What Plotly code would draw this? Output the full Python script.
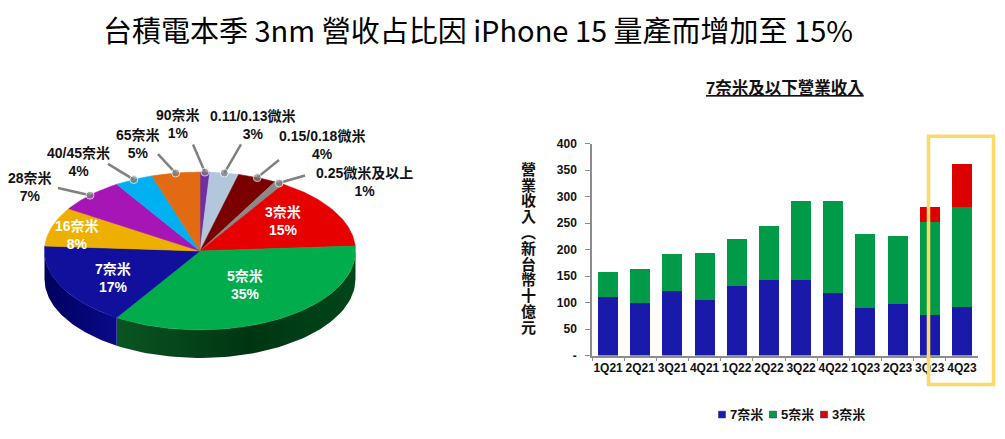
import numpy as np
import plotly.graph_objects as go

# ---------------- data ----------------
# wafer revenue share by process node (%), clockwise from 12 o'clock
node_labels = ["90奈米", "0.11/0.13微米", "0.15/0.18微米", "0.25微米及以上",
               "3奈米", "5奈米", "7奈米", "16奈米", "28奈米", "40/45奈米", "65奈米"]
node_share = [1, 3, 4, 1, 15, 35, 17, 8, 7, 4, 5]

# quarterly revenue of 7nm and below (NT$ billion)
quarters = ["1Q21", "2Q21", "3Q21", "4Q21", "1Q22", "2Q22", "3Q22", "4Q22",
            "1Q23", "2Q23", "3Q23", "4Q23"]
rev_7nm = [111, 100, 122, 105, 132, 142, 142, 118, 89, 97, 77, 92]
rev_5nm = [46, 64, 69, 89, 87, 103, 150, 174, 140, 129, 174, 189]
rev_3nm = [None, None, None, None, None, None, None, None, None, None, 30, 81]

y_ticks = [0, 50, 100, 150, 200, 250, 300, 350, 400]
y_ticktext = ["-", "50", "100", "150", "200", "250", "300", "350", "400"]

# ---------------- styling ----------------
W, H = 1005, 439
LATIN = "'Liberation Sans', Arial, 'Noto Sans CJK TC', sans-serif"
CJK = "'Noto Sans CJK TC', sans-serif"

node_colors = ["#7030A0", "#B2C6DC", "#7A0000", "#8A8A8A", "#E60000",
               "#00AC4C", "#10109C", "#EEB000", "#A616B6", "#00B0F0", "#E26A12"]
# side-wall shading, left to right
node_side_scales = [
    [[0, "#5A2786"], [1, "#3A1558"]],
    [[0, "#91A4B8"], [1, "#6A7A8C"]],
    [[0, "#5A0000"], [1, "#3A0000"]],
    [[0, "#6A6A6A"], [1, "#4A4A4A"]],
    [[0, "#A00000"], [1, "#700000"]],
    [[0, "#0A5522"], [0.55, "#003512"], [1, "#00461A"]],
    [[0, "#00005E"], [1, "#0A0A88"]],
    [[0, "#A07800"], [1, "#705400"]],
    [[0, "#7A1088"], [1, "#560A60"]],
    [[0, "#0088BA"], [1, "#005A7C"]],
    [[0, "#A04E0C"], [1, "#6E3608"]],
]

# pie geometry (pixel space of the left panel)
cx, cy, rx, ry, depth = 200.0, 252.0, 155.5, 81.5, 29.0

# outside labels: index -> (text centre x, y, leader start x, y)
outside_pos = {
    0: (178, 121, 193, 142),
    1: (253, 122, 241, 142),
    2: (322, 143, 279, 158),
    3: (364, 181, 305, 174),
    10: (138, 141, 158, 152),
    9: (78, 160, 108, 162),
    8: (30, 186, 58, 187),
}
# inside labels: index -> (text centre x, y)
inside_pos = {4: (283, 221), 5: (245, 287), 6: (113, 280), 7: (77, 236)}

series = [
    ("7奈米", rev_7nm, "#1A1AAA"),
    ("5奈米", rev_5nm, "#009A48"),
    ("3奈米", rev_3nm, "#DD0000"),
]

fig = go.Figure()

# ---------------- 3D pie ----------------
total = float(sum(node_share))
edges = np.concatenate([[0.0], np.cumsum(node_share)]) / total * 2 * np.pi


def rim(t0, t1, drop=0.0, n=60):
    ts = np.linspace(t0, t1, max(n, 3))
    return cx + rx * np.sin(ts), cy - ry * np.cos(ts) + drop


# visible side walls (front half of the disc)
for i in range(len(node_share)):
    lo, hi = max(edges[i], np.pi / 2), min(edges[i + 1], 3 * np.pi / 2)
    if lo >= hi:
        continue
    xt, yt = rim(lo, hi)
    xb, yb = rim(hi, lo, depth)
    fig.add_trace(go.Scatter(
        x=np.concatenate([xt, xb, xt[:1]]), y=np.concatenate([yt, yb, yt[:1]]),
        xaxis="x2", yaxis="y2", mode="lines", fill="toself",
        fillgradient=dict(type="horizontal", colorscale=node_side_scales[i]),
        line=dict(width=0),
        hoverinfo="skip", showlegend=False))

# top faces
for i in range(len(node_share)):
    n = int(4 + node_share[i] * 3)
    xs, ys = rim(edges[i], edges[i + 1], n=n)
    fig.add_trace(go.Scatter(
        x=np.concatenate([[cx], xs, [cx]]), y=np.concatenate([[cy], ys, [cy]]),
        xaxis="x2", yaxis="y2", mode="lines", fill="toself",
        fillcolor=node_colors[i], line=dict(color=node_colors[i], width=0.6),
        name=node_labels[i], hoverinfo="name", showlegend=False))

annotations = []

# leader lines with a dot on the rim at each slice's mid angle
for i, (tx, ty, lx, ly) in outside_pos.items():
    mid = (edges[i] + edges[i + 1]) / 2
    dx, dy = cx + rx * np.sin(mid), cy - ry * np.cos(mid)
    fig.add_trace(go.Scatter(
        x=[lx, dx], y=[ly, dy], xaxis="x2", yaxis="y2", mode="lines+markers",
        line=dict(color="#808080", width=2.5),
        marker=dict(size=[0, 8], color="#808080"),
        hoverinfo="skip", showlegend=False))
    annotations.append(dict(
        x=tx, y=ty, xref="x2", yref="y2", showarrow=False,
        text=f"{node_labels[i]}<br>{node_share[i]}%", align="center",
        xanchor="center", yanchor="middle",
        font=dict(family=LATIN, size=14, color="#111111", weight="bold")))

for i, (tx, ty) in inside_pos.items():
    annotations.append(dict(
        x=tx, y=ty, xref="x2", yref="y2", showarrow=False,
        text=f"{node_labels[i]}<br>{node_share[i]}%", align="center",
        xanchor="center", yanchor="middle",
        font=dict(family=LATIN, size=14, color="white", weight="bold")))

# ---------------- stacked bars ----------------
for name, vals, col in series:
    fig.add_trace(go.Bar(
        x=quarters, y=vals, name=name, marker=dict(color=col, line=dict(width=0)),
        xaxis="x", yaxis="y", showlegend=False))

# hand-drawn legend row under the bars
leg_x = [722, 773, 824]
shapes = []
for (name, _, col), lx in zip(series, leg_x):
    shapes.append(dict(type="rect", xref="paper", yref="paper",
                       x0=(lx - 3.5) / W, x1=(lx + 3.5) / W,
                       y0=1 - (421 + 3.5) / H, y1=1 - (421 - 3.5) / H,
                       fillcolor=col, line=dict(width=0.6, color="#333366")))
    annotations.append(dict(
        x=(lx + 6) / W, y=1 - 420.5 / H, xref="paper", yref="paper",
        showarrow=False, text=name, xanchor="left", yanchor="middle",
        font=dict(family=LATIN, size=13, color="#111111", weight="bold")))

# highlight frame around the latest quarter
shapes.append(dict(type="rect", xref="paper", yref="paper", layer="above",
                   x0=928.5 / W, x1=993.5 / W, y0=1 - 390 / H, y1=1 - 133.5 / H,
                   line=dict(color="#FFD966", width=3.5), fillcolor="rgba(0,0,0,0)"))

# vertical axis title, one character per row
ytitle = "營業收入︵新台幣十億元"
for k, ch in enumerate(ytitle):
    annotations.append(dict(
        x=528 / W, y=1 - (166.7 + k * 16.3) / H, xref="paper", yref="paper",
        showarrow=False, text=ch, xanchor="center", yanchor="middle",
        font=dict(family=CJK, size=15, color="#111111", weight="bold")))

# chart headings
annotations.append(dict(
    x=477.5 / W, y=1 - 23 / H, xref="paper", yref="paper", showarrow=False,
    text="台積電本季 3nm 營收占比因 iPhone 15 量產而增加至 15%",
    xanchor="center", yanchor="middle",
    font=dict(family=CJK, size=29, color="#000000")))
annotations.append(dict(
    x=785 / W, y=1 - 84 / H, xref="paper", yref="paper", showarrow=False,
    text="7奈米及以下營業收入", xanchor="center", yanchor="middle",
    font=dict(family=LATIN, size=16.5, color="#111111", weight="bold",
              lineposition="under")))

axis_grey = "#8C8C8C"
fig.update_layout(
    width=W, height=H, margin=dict(l=0, r=0, t=0, b=0),
    paper_bgcolor="white", plot_bgcolor="white",
    barmode="stack", bargap=0.38,
    xaxis=dict(domain=[592 / W, 978 / W], anchor="y", type="category",
               showline=True, linecolor=axis_grey, linewidth=1.5,
               ticks="outside", tickson="boundaries", ticklen=4,
               tickcolor=axis_grey, showgrid=False, tickangle=0,
               tickfont=dict(family=LATIN, size=12, color="#111111", weight="bold")),
    yaxis=dict(domain=[(H - 360) / H, (H - 141) / H], anchor="x",
               range=[0, 400], tickvals=y_ticks, ticktext=y_ticktext,
               showline=True, linecolor=axis_grey, linewidth=1.5,
               ticks="outside", ticklen=5, tickcolor=axis_grey,
               showgrid=False, zeroline=False, ticklabelstandoff=6,
               tickfont=dict(family=LATIN, size=12, color="#111111", weight="bold")),
    xaxis2=dict(domain=[0, 0.45], anchor="y2", range=[0, 0.45 * W],
                visible=False, fixedrange=True),
    yaxis2=dict(domain=[0, 1], anchor="x2", range=[H, 0],
                visible=False, fixedrange=True),
    annotations=annotations, shapes=shapes,
)

fig.write_html("out.html")
